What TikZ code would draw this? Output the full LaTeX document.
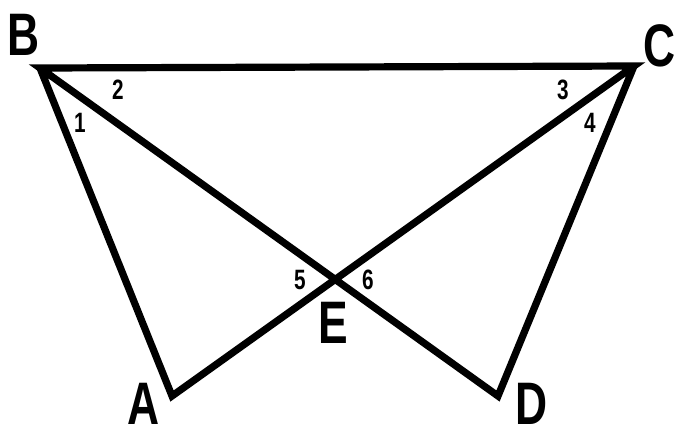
\documentclass[tikz,border=0pt]{standalone}
\usepackage{fontspec}
\setmainfont{Liberation Sans}
\usetikzlibrary{calc, positioning}
\tikzset{
  line/.style={draw=black, line width=3.6pt, line join=miter},
  vlabel/.style={inner sep=0pt, font=\fontsize{30}{30}\selectfont\bfseries},
  alabel/.style={inner sep=0pt, font=\fontsize{14}{14}\selectfont\bfseries}
}
\newcommand{\narrow}[1]{\scalebox{0.74}[1]{#1}}

\begin{document}
\begin{tikzpicture}[x=0.5pt, y=-0.5pt]
  \useasboundingbox (0,0) rectangle (676,436);
  % Vertices
  \coordinate (B) at (40,68);
  \coordinate (C) at (634,66);
  \coordinate (A) at (172,396);
  \coordinate (D) at (498,396);
  \coordinate (E) at (intersection of B--D and C--A);

  % Sides and diagonals
  \draw[line] (B) -- (A) -- (C) -- (B) -- (D) -- (C);

  % Vertex labels
  \node[vlabel] (lb) at (24,35) {\narrow{B}};
  \node[vlabel] (lc) at (660,46) {\narrow{C}};
  \node[vlabel] (la) at (144,404) {\narrow{A}};
  \node[vlabel] (ld) at (532,404) {\narrow{D}};
  \node[vlabel] (le) at (333,323) {\narrow{E}};

  % Angle numbers
  \node[alabel] (n1) at (80,123) {\narrow{1}};
  \node[alabel] (n2) at (118,90) {\narrow{2}};
  \node[alabel] (n3) at (563,90) {\narrow{3}};
  \node[alabel] (n4) at (590,123) {\narrow{4}};
  \node[alabel] (n5) at (300,280) {\narrow{5}};
  \node[alabel] (n6) at (368,280) {\narrow{6}};
\end{tikzpicture}
\end{document}
